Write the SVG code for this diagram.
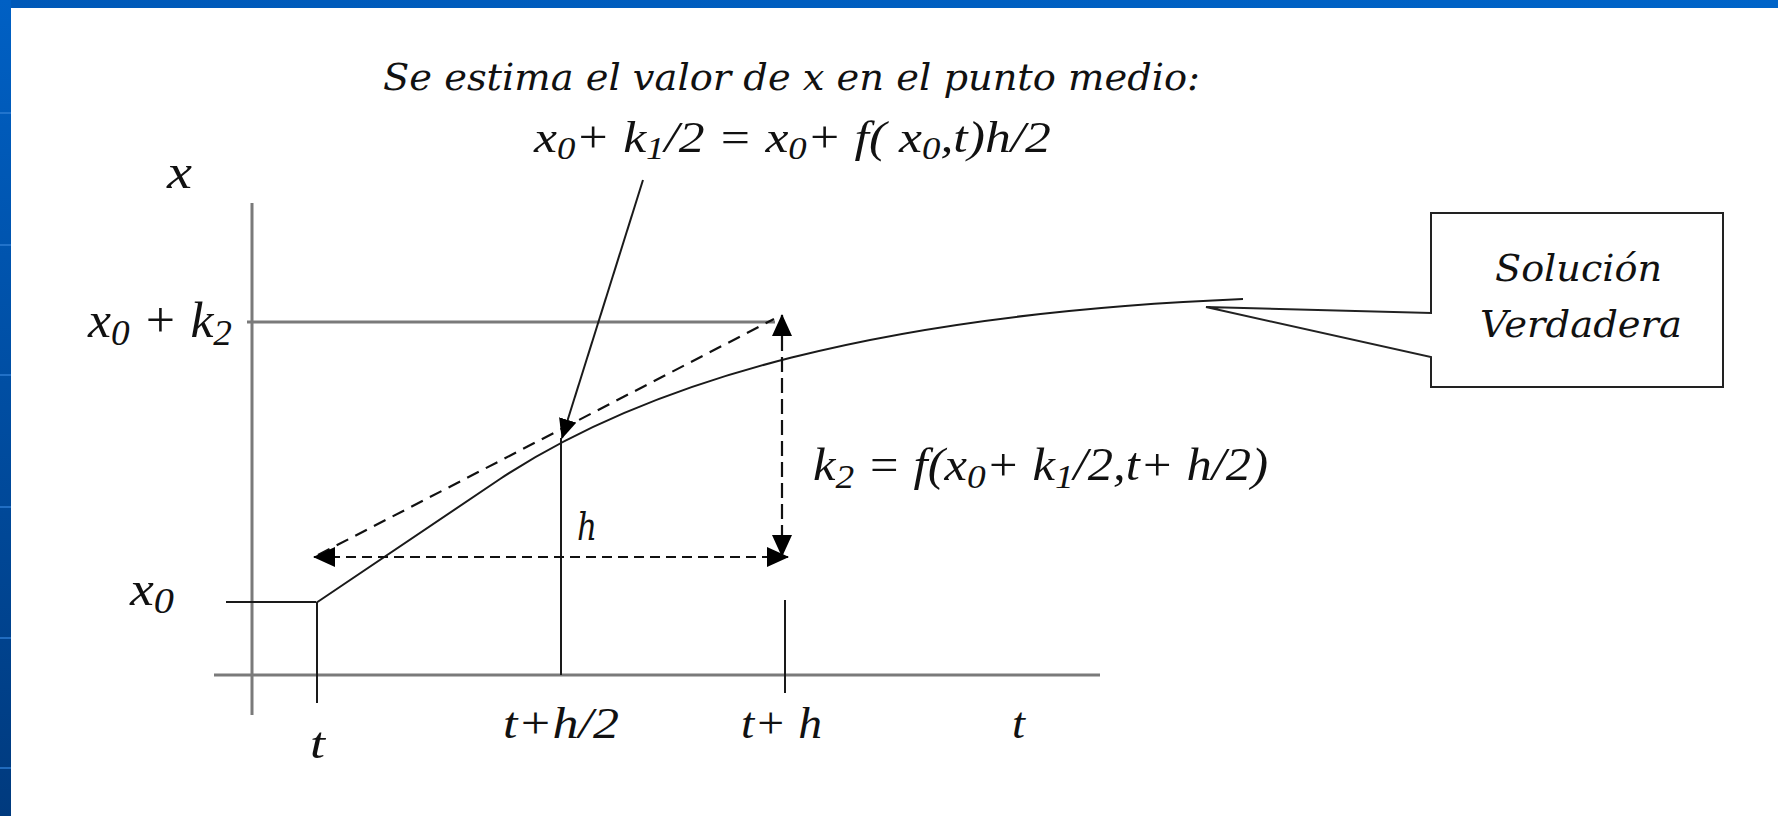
<svg xmlns="http://www.w3.org/2000/svg" width="1778" height="816" viewBox="0 0 1778 816">
  <defs>
    <linearGradient id="gLeft" x1="0" y1="0" x2="0" y2="1">
      <stop offset="0" stop-color="#0060c4"/>
      <stop offset="1" stop-color="#003a7e"/>
    </linearGradient>
    <linearGradient id="gTop" x1="0" y1="0" x2="1" y2="0">
      <stop offset="0" stop-color="#0059b8"/>
      <stop offset="1" stop-color="#0064c8"/>
    </linearGradient>
    <marker id="ah" viewBox="0 0 22 20" markerUnits="userSpaceOnUse" markerWidth="22" markerHeight="20" refX="21" refY="10" orient="auto-start-reverse">
      <path d="M0,0 L22,10 L0,20 Z" fill="#000"/>
    </marker>
    <marker id="ahs" viewBox="0 0 20 18" markerUnits="userSpaceOnUse" markerWidth="20" markerHeight="18" refX="19" refY="9" orient="auto">
      <path d="M0,0 L20,9 L0,18 Z" fill="#000"/>
    </marker>
  </defs>
  <style>
    .axis { stroke: #7a7a7a; stroke-width: 3; fill: none; }
    .thin { stroke: #1a1a1a; stroke-width: 2; fill: none; }
    .dash { stroke: #111; stroke-width: 2.2; fill: none; }
  </style>

  <g id="background">
    <rect x="0" y="0" width="1778" height="816" fill="#ffffff"/>
    <rect x="0" y="0" width="1778" height="8" fill="url(#gTop)"/>
    <rect x="0" y="0" width="11" height="816" fill="url(#gLeft)"/>
    <g stroke="#2f7fd6" stroke-width="2" opacity="0.7">
      <line x1="0" y1="113" x2="11" y2="113"/>
      <line x1="0" y1="245" x2="11" y2="245"/>
      <line x1="0" y1="375" x2="11" y2="375"/>
      <line x1="0" y1="507" x2="11" y2="507"/>
      <line x1="0" y1="638" x2="11" y2="638"/>
      <line x1="0" y1="768" x2="11" y2="768"/>
    </g>
  </g>

  <g id="axes">
    <line class="axis" x1="252" y1="203" x2="252" y2="715"/>
    <line class="axis" x1="214" y1="675" x2="1100" y2="675" stroke="#555"/>
    <line class="axis" x1="247" y1="322" x2="775" y2="322" stroke="#9a9a9a"/>
    <line class="thin" x1="226" y1="602" x2="316" y2="602" stroke="#444"/>
    <line class="thin" x1="317" y1="603" x2="317" y2="703"/>
    <line class="thin" x1="561" y1="438" x2="561" y2="675"/>
    <line class="thin" x1="785" y1="600" x2="785" y2="693" stroke="#444"/>
  </g>

  <g id="curve">
    <path class="thin" d="M316,603 L500,479 C650,380 880,314 1243,299"/>
  </g>

  <g id="connectors">
    <line class="dash" x1="318" y1="555" x2="774" y2="319" stroke-dasharray="13 8"/>
    <line class="dash" x1="314" y1="557" x2="788" y2="557" stroke-dasharray="10 6" marker-start="url(#ah)" marker-end="url(#ah)"/>
    <line class="dash" x1="782" y1="315" x2="782" y2="556" stroke-dasharray="15 6" marker-start="url(#ah)" marker-end="url(#ah)"/>
    <line class="thin" x1="643" y1="180" x2="562" y2="438" stroke="#000" marker-end="url(#ahs)"/>
  </g>

  <g id="callout" font-family="DejaVu Serif, serif" font-style="italic" fill="#111">
    <path d="M1431,213 L1723,213 L1723,387 L1431,387 L1431,357 L1206,307 L1431,313 Z" fill="#fff" stroke="#222" stroke-width="2"/>
    <text x="1495" y="281" font-size="37" textLength="167" lengthAdjust="spacingAndGlyphs">Solución</text>
    <text x="1480" y="337" font-size="37" textLength="202" lengthAdjust="spacingAndGlyphs">Verdadera</text>
  </g>

  <g id="title" fill="#111" font-style="italic">
    <text font-family="DejaVu Serif, serif" x="383" y="90" font-size="37" textLength="817" lengthAdjust="spacingAndGlyphs">Se estima el valor de x en el punto medio:</text>
    <text font-family="Liberation Serif, Times New Roman, serif" x="534" y="152" font-size="45" textLength="517" lengthAdjust="spacingAndGlyphs">x<tspan dy="7" font-size="32">0</tspan><tspan dy="-7">+ k</tspan><tspan dy="7" font-size="32">1</tspan><tspan dy="-7">/2 = x</tspan><tspan dy="7" font-size="32">0</tspan><tspan dy="-7">+ f( x</tspan><tspan dy="7" font-size="32">0</tspan><tspan dy="-7">,t)h/2</tspan></text>
  </g>

  <g id="labels" fill="#111" font-style="italic" font-family="Liberation Serif, Times New Roman, serif">
    <text x="167" y="188" font-size="48" textLength="25" lengthAdjust="spacingAndGlyphs">x</text>
    <text x="88" y="337" font-size="50" textLength="144" lengthAdjust="spacingAndGlyphs">x<tspan dy="8" font-size="36">0</tspan><tspan dy="-8"> + k</tspan><tspan dy="8" font-size="36">2</tspan></text>
    <text x="130" y="605" font-size="48" textLength="44" lengthAdjust="spacingAndGlyphs">x<tspan dy="8" font-size="36">0</tspan></text>
    <text font-family="DejaVu Serif, serif" x="577" y="540" font-size="40" textLength="20" lengthAdjust="spacingAndGlyphs">h</text>
    <text x="813" y="480" font-size="46" textLength="455" lengthAdjust="spacingAndGlyphs">k<tspan dy="8" font-size="34">2</tspan><tspan dy="-8"> = f(x</tspan><tspan dy="8" font-size="34">0</tspan><tspan dy="-8">+ k</tspan><tspan dy="8" font-size="34">1</tspan><tspan dy="-8">/2,t+ h/2)</tspan></text>
    <text x="310" y="758" font-size="44" textLength="15" lengthAdjust="spacingAndGlyphs">t</text>
    <text x="503" y="738" font-size="44" textLength="116" lengthAdjust="spacingAndGlyphs">t+h/2</text>
    <text x="741" y="738" font-size="44" textLength="81" lengthAdjust="spacingAndGlyphs">t+ h</text>
    <text x="1012" y="738" font-size="44" textLength="13" lengthAdjust="spacingAndGlyphs">t</text>
  </g>
</svg>
